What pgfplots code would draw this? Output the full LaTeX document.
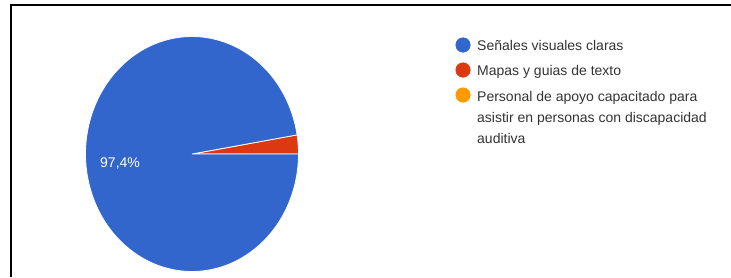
\documentclass[border=0pt]{standalone}
\usepackage{pgfplots}
\pgfplotsset{compat=1.18}
\usepackage{fontspec}
\setmainfont{Liberation Sans}
\definecolor{gblue}{HTML}{3366CC}
\definecolor{gred}{HTML}{DC3912}
\definecolor{gorange}{HTML}{FF9900}
\definecolor{gtext}{HTML}{333333}
% data (percent)
\def\valA{97.4}% Señales visuales claras
\def\valB{2.6}%  Mapas y guias de texto
\def\valC{0}%    Personal de apoyo ...
\begin{document}
\begin{tikzpicture}
\pgfmathsetmacro{\angB}{\valB*3.6}
\pgfmathsetmacro{\angAend}{\valB*3.6+\valA*3.6}
\begin{axis}[
  at={(0,0)}, anchor=origin,
  width=731pt, height=277pt, scale only axis,
  xmin=0, xmax=731, ymin=0, ymax=277,
  hide axis, clip=false,
]
% pie: centre (192,123), radii 106.5 x 117.5
\addplot[fill=gred, draw=white, line width=0.8pt, domain=0:\angB, samples=10, variable=\t]
  ({192+106.5*cos(\t)}, {123+117.5*sin(\t)}) -- (axis cs:192,123) -- cycle;
\addplot[fill=gblue, draw=white, line width=0.8pt, domain=\angB:\angAend, samples=180, variable=\t]
  ({192+106.5*cos(\t)}, {123+117.5*sin(\t)}) -- (axis cs:192,123) -- cycle;
\node[anchor=base west, text=white, font=\fontsize{14}{16}\selectfont, inner sep=0pt] at (axis cs:100,110) {97,4\%};
% legend markers
\addplot[only marks, mark=*, mark size=7.3pt, color=gblue] coordinates {(463,232)};
\addplot[only marks, mark=*, mark size=7.3pt, color=gred] coordinates {(463,207)};
\addplot[only marks, mark=*, mark size=7.3pt, color=gorange] coordinates {(463,182)};
\begin{scope}[every node/.style={anchor=base west, text=gtext, font=\fontsize{14}{16}\selectfont, inner sep=0pt}]
\node at (axis cs:477,226.5) {Señales visuales claras};
\node at (axis cs:477,202) {Mapas y guias de texto};
\node at (axis cs:477,175.5) {Personal de apoyo capacitado para};
\node at (axis cs:477,154.5) {asistir en personas con discapacidad};
\node at (axis cs:477,133.5) {auditiva};
\end{scope}
% frame (top and left only)
\draw[black, line width=2pt] (axis cs:10.5,0) -- (axis cs:10.5,272) -- (axis cs:731,272);
\end{axis}
\pgfresetboundingbox
\useasboundingbox (0,0) rectangle (731pt,277pt);
\end{tikzpicture}
\end{document}
